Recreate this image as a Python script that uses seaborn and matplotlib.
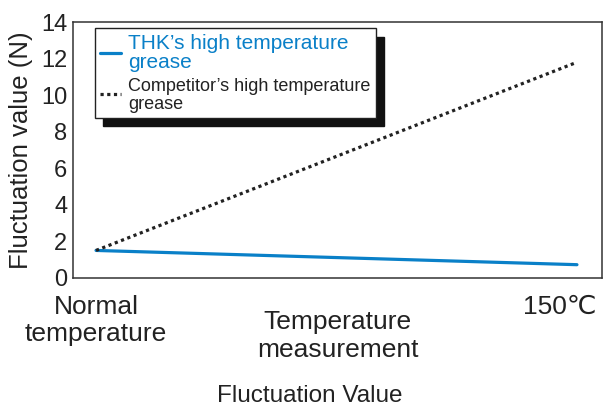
import pandas as pd
import matplotlib.pyplot as plt
import seaborn as sns

# data
positions = [0, 1]
tick_labels = ["Normal\ntemperature", "150℃"]
thk_values = [1.5, 0.72]
competitor_values = [1.5, 11.8]
series_names = ["THK\u2019s high temperature\ngrease", "Competitor\u2019s high temperature\ngrease"]

BLUE = "#0a80c8"

sns.set_style("white")
plt.rcParams["font.family"] = ["Liberation Sans", "DejaVu Sans"]

df = pd.DataFrame({
    "x": positions * 2,
    "value": thk_values + competitor_values,
    "series": [series_names[0]] * 2 + [series_names[1]] * 2,
})

fig = plt.figure(figsize=(6.13, 4.08), dpi=100)
ax = fig.add_axes([0.119, 0.319, 0.863, 0.627])

sns.lineplot(data=df[df.series == series_names[0]], x="x", y="value",
             color=BLUE, lw=2.3, ax=ax, label=series_names[0])
sns.lineplot(data=df[df.series == series_names[1]], x="x", y="value",
             color="#222222", lw=2.3, ax=ax, label=series_names[1])
ax.lines[1].set_linestyle((0, (1, 1.1)))

ax.set_xlim(-0.048, 1.052)
ax.set_ylim(0, 14)
ax.set_yticks(range(0, 15, 2))
ax.set_xticks([0, 0.965])
ax.set_xticklabels(tick_labels, fontsize=19, color="#222222", linespacing=1.2)
ax.tick_params(axis="x", length=0, pad=12)
ax.tick_params(axis="y", direction="in", length=9, width=1, color="#555555",
               labelsize=17, pad=4, labelcolor="#222222")

for s in ax.spines.values():
    s.set_color("#333333")
    s.set_linewidth(1.1)

ax.set_xlabel("Temperature\nmeasurement", fontsize=19, color="#222222", linespacing=1.2)
ax.xaxis.set_label_coords(0.5, -0.125)
ax.set_ylabel("Fluctuation value (N)", fontsize=18.5, color="#222222")
ax.yaxis.set_label_coords(-0.075, 0.5)

leg = ax.legend(loc="upper left", bbox_to_anchor=(0.042, 0.975), fontsize=15,
                frameon=True, fancybox=False, framealpha=1, edgecolor="#222222",
                handlelength=1.0, handletextpad=0.35, labelspacing=0.3,
                borderpad=0.25, borderaxespad=0,
                shadow={"color": "#111111", "alpha": 1, "ox": 5.5, "oy": -6})
leg.get_frame().set_linewidth(1.0)
texts = leg.get_texts()
texts[0].set_color(BLUE)
texts[0].set_linespacing(1.0)
texts[1].set_fontsize(13)
texts[1].set_color("#222222")
texts[1].set_linespacing(1.05)

fig.text(0.506, 0.03, "Fluctuation Value", ha="center", va="center",
         fontsize=17.5, color="#222222")

fig.savefig("out.png", dpi=100)
